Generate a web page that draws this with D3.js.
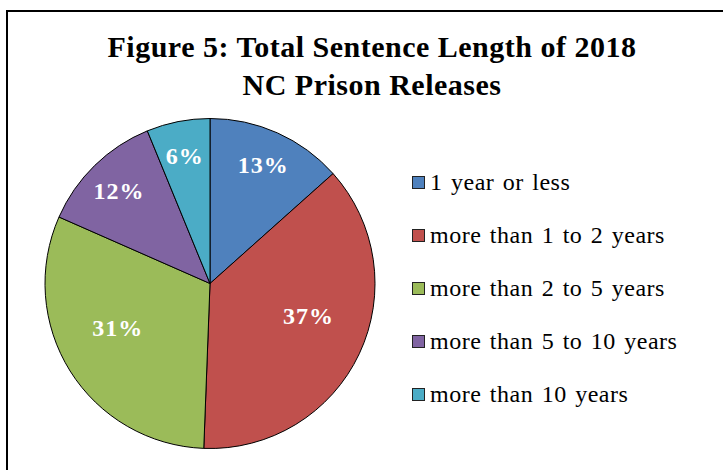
<!DOCTYPE html>
<html><head><meta charset="utf-8">
<script src="https://cdn.jsdelivr.net/npm/d3@7"></script>
<style>html,body{margin:0;padding:0;background:#fff;}svg{display:block;}</style>
</head><body>
<svg id="chart" width="723" height="470"></svg>
<script>
const titleLines = ["Figure 5: Total Sentence Length of 2018", "NC Prison Releases"];
const categories = ["1 year or less", "more than 1 to 2 years", "more than 2 to 5 years", "more than 5 to 10 years", "more than 10 years"];
const values = [13.4, 37.2, 31.0, 12.2, 6.2];
const labels = ["13%", "37%", "31%", "12%", "6%"];
const colors = ["#4F81BD", "#C0504D", "#9BBB59", "#8064A2", "#4BACC6"];

const svg = d3.select("#chart");
const W = 723, H = 470;
svg.append("rect").attr("x", 7).attr("y", 11).attr("width", W).attr("height", H)
  .attr("fill", "#fff").attr("stroke", "#000").attr("stroke-width", 2);

const serif = "'Liberation Serif', 'DejaVu Serif', serif";
svg.append("text").attr("text-anchor", "middle").attr("font-family", serif)
  .attr("font-weight", "bold").attr("font-size", 30).attr("fill", "#000")
  .attr("letter-spacing", 0.5)
  .selectAll("tspan").data(titleLines).join("tspan")
  .attr("x", 372).attr("y", (d, i) => 57 + i * 38).text(d => d);

const cx = 210, cy = 283.5, R = 165;
const pie = d3.pie().sort(null).value(d => d)(values);
const arc = d3.arc().innerRadius(0).outerRadius(R);
const g = svg.append("g").attr("transform", `translate(${cx},${cy})`);
g.selectAll("path").data(pie).join("path")
  .attr("d", arc).attr("fill", (d, i) => colors[i])
  .attr("stroke", "#000").attr("stroke-width", 1);

g.selectAll("text").data(pie).join("text")
  .attr("transform", d => {
    const big = d.value > 25;
    const r = (big ? 0.66 : 0.79) * R;
    const a = (d.startAngle + d.endAngle) / 2;
    return `translate(${Math.sin(a) * r},${-Math.cos(a) * r - (big ? 14 : 0)})`;
  })
  .attr("text-anchor", "middle").attr("dy", "0.35em")
  .attr("font-family", serif).attr("font-weight", "bold").attr("font-size", 24)
  .attr("letter-spacing", 1)
  .attr("fill", "#fff").text((d, i) => labels[i]);

const y = d3.scalePoint().domain(categories).range([182.5, 394.5]);
const lg = svg.append("g");
const item = lg.selectAll("g").data(categories).join("g")
  .attr("transform", d => `translate(412,${y(d)})`);
item.append("rect").attr("x", 0.5).attr("y", -6).attr("width", 12).attr("height", 12)
  .attr("fill", (d, i) => colors[i]).attr("stroke", "#222").attr("stroke-width", 1);
item.append("text").attr("x", 18).attr("y", 0).attr("dy", "0.33em")
  .attr("font-family", serif).attr("font-size", 24).attr("fill", "#000")
  .attr("letter-spacing", 0.5).attr("word-spacing", 2).text(d => d);
</script>
</body></html>
